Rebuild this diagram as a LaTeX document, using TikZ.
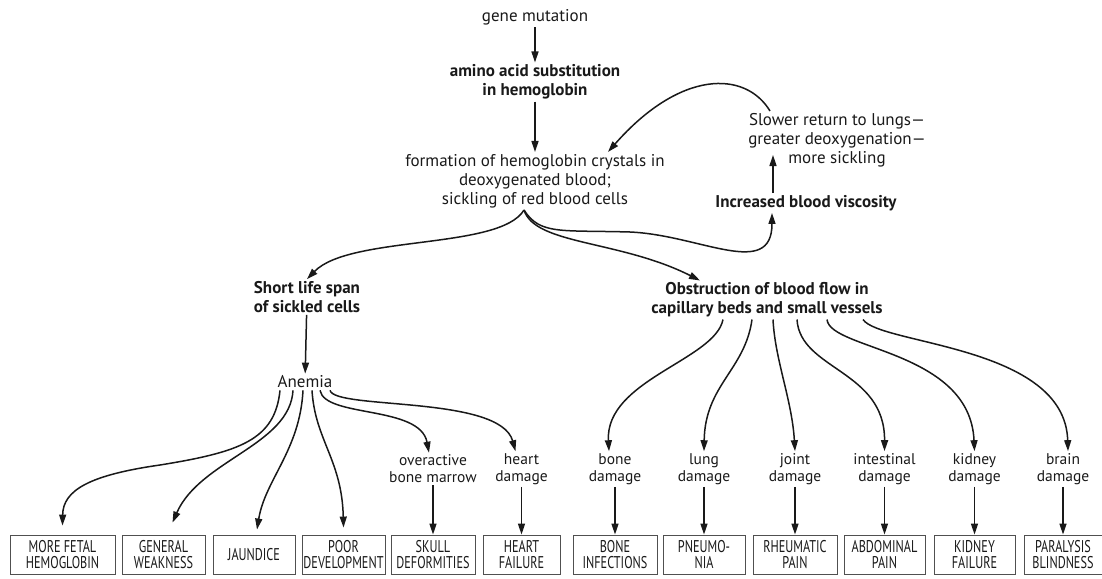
\documentclass[tikz,border=0pt]{standalone}
\usepackage{fontspec}
\setmainfont{PT Sans}
\newfontfamily\capsfont[FakeStretch=0.72]{PT Sans}
\definecolor{inkblack}{RGB}{25,25,25}
\definecolor{boxgray}{RGB}{80,80,80}
\usetikzlibrary{arrows.meta,positioning}

\begin{document}
\begin{tikzpicture}[x=1pt, y=1pt, font=\fontsize{17}{19}\selectfont,
    every node/.style={align=center, inner sep=2pt, text=inkblack},
    arr/.style={-{Triangle[length=11pt,width=7pt]}, line width=1.5pt, draw=inkblack},
    keyline/.style={font=\bfseries\fontsize{17}{19}\selectfont},
    damage/.style={font=\fontsize{15.5}{17}\selectfont},
    effect/.style={draw=boxgray, line width=0.9pt, minimum height=39pt, inner sep=1pt,
                   font=\capsfont\fontsize{17}{16.5}\selectfont}]
  \useasboundingbox (0,0) rectangle (1102,-578);

  % main chain
  \node (gene) at (535,-17) {gene mutation};
  \node[keyline] (amino) at (535,-82) {amino acid substitution\\in hemoglobin};
  \node (form) at (535,-181) {formation of hemoglobin crystals in\\deoxygenated blood;\\sickling of red blood cells};
  \node (slower) at (837,-140) {Slower return to lungs---\\greater deoxygenation---\\more sickling};
  \node[keyline] (visc) at (806,-203) {Increased blood viscosity};
  \node[keyline] (short) at (307,-297) {Short life span\\of sickled cells};
  \node (anemia) at (305,-382) {Anemia};
  \node[keyline] (obstr) at (767,-300) {Obstruction of blood flow in\\capillary beds and small vessels};

  \draw[arr] (gene) -- (amino);
  \draw[arr] (amino) -- (form);
  \draw[arr] (short) -- (anemia);
  \coordinate (vx) at (773,-155);
  \draw[arr] (visc.north -| vx) -- (vx);
  \draw[arr] ([xshift=-67pt]slower.north) .. controls (745,-70) and (680,-70) .. ([xshift=73pt]form.north);

  % split under the crystals
  \draw[arr] ([xshift=-11pt]form.south) .. controls (500,-250) and (350,-235) .. (short.north);
  \draw[arr] ([xshift=-11pt]form.south) .. controls (535,-245) and (620,-240) .. ([xshift=-67pt]obstr.north);
  \draw[arr] ([xshift=-11pt]form.south) .. controls (540,-235) and (560,-230) .. (630,-232)
             .. controls (700,-235) and (772,-280) .. ([xshift=-34pt]visc.south);

  % effects
  \foreach \nm/\x/\w/\lbl in {
    b1/62.5/105/MORE FETAL\\HEMOGLOBIN,
    b2/163.5/83/GENERAL\\WEAKNESS,
    b3/254/82/JAUNDICE,
    b4/343.5/83/POOR\\DEVELOPMENT,
    b5/433/84/SKULL\\DEFORMITIES,
    b6/521.5/77/HEART\\FAILURE,
    b7/615/84/BONE\\INFECTIONS,
    b8/704/82/PNEUMO-\\NIA,
    b9/795/84/RHEUMATIC\\PAIN,
    b10/884.5/81/ABDOMINAL\\PAIN,
    b11/974.5/81/KIDNEY\\FAILURE,
    b12/1063/78/PARALYSIS\\BLINDNESS}
  {
    \node[effect, minimum width=\w pt] (\nm) at (\x,-554.5) {\lbl};
  }
  \foreach \nm/\x/\lbl in {
    m5/433/overactive\\bone marrow,
    m6/521.5/heart\\damage,
    m7/615/bone\\damage,
    m8/704/lung\\damage,
    m9/795/joint\\damage,
    m10/884.5/intestinal\\damage,
    m11/974.5/kidney\\damage,
    m12/1063/brain\\damage}
  {
    \node[damage] (\nm) at (\x,-469) {\lbl};
  }
  \foreach \i in {5,...,12}
    \draw[arr] (m\i.south) -- (b\i.north);

  % anemia fan
  \draw[arr] ([xshift=-25pt]anemia.south) .. controls (275,-440) and (240,-452) .. (160,-465)
             .. controls (90,-475) and (63,-490) .. ([yshift=9pt]b1.north);
  \draw[arr] ([xshift=-12pt]anemia.south) .. controls (290,-445) and (200,-460) .. ([xshift=9pt,yshift=12pt]b2.north);
  \draw[arr] ([xshift=-2pt]anemia.south) .. controls (300,-450) and (265,-480) .. ([xshift=3pt,yshift=5pt]b3.north);
  \draw[arr] ([xshift=7pt]anemia.south) .. controls (315,-440) and (342,-460) .. ([yshift=7pt]b4.north);
  \draw[arr] ([xshift=15pt]anemia.south) .. controls (325,-418) and (420,-405) .. ([xshift=-4pt]m5.north);
  \draw[arr] ([xshift=25pt]anemia.south) .. controls (335,-410) and (500,-395) .. ([xshift=-6pt]m6.north);

  % obstruction fan
  \draw[arr] ([xshift=-44pt]obstr.south) .. controls (715,-360) and (605,-380) .. ([xshift=-6pt]m7.north);
  \draw[arr] ([xshift=-15pt]obstr.south) .. controls (745,-370) and (705,-385) .. (m8.north);
  \draw[arr] ([xshift=6pt]obstr.south) .. controls (775,-360) and (792,-400) .. (m9.north);
  \draw[arr] ([xshift=30pt]obstr.south) .. controls (800,-370) and (885,-370) .. (m10.north);
  \draw[arr] ([xshift=60pt]obstr.south) .. controls (830,-350) and (970,-350) .. (m11.north);
  \draw[arr] ([xshift=96pt]obstr.south) .. controls (880,-345) and (1065,-345) .. ([xshift=5pt]m12.north);
\end{tikzpicture}
\end{document}
